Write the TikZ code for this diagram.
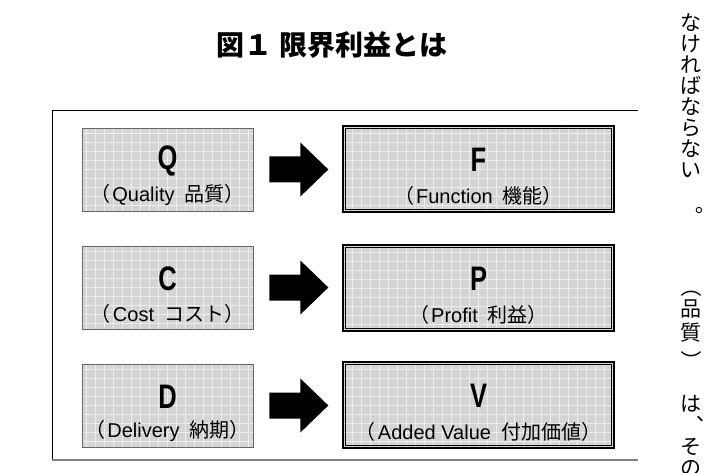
\documentclass[tikz,border=0pt]{standalone}
\usepackage{fontspec}
\usepackage{graphicx}
\setmainfont{Liberation Sans}
\newfontfamily\jp{Noto Sans CJK JP}
\newcommand{\sublab}[2]{{\jp （}\hspace{0.1em}#1\hspace{0.5em}{\jp #2）}}
\usetikzlibrary{calc}
\begin{document}
\begin{tikzpicture}[x=1pt,y=-1pt,
  texture/.style={path picture={\draw[white,line width=0.6pt,opacity=0.6] (path picture bounding box.south west) grid[xstep=9pt,ystep=9pt] (path picture bounding box.north east);}},
  lbox/.style={draw=black!60, line width=0.7pt, fill=black!17, texture, minimum width=171pt, minimum height=83pt, inner sep=0pt},
  rbox/.style={draw=black, line width=1.6pt, fill=black!17, texture, minimum width=271pt, minimum height=86pt, inner sep=0pt},
  letter/.style={font=\bfseries\fontsize{34}{34}\selectfont, inner sep=0pt},
  sub/.style={font=\fontsize{20}{20}\selectfont, inner sep=0pt},
  ttl/.style={font=\jp\bfseries\fontsize{28}{28}\selectfont, inner sep=0pt},
  vchar/.style={font=\jp\fontsize{21}{21}\selectfont, inner sep=0pt},
  blockarrow/.style={fill=black}
]
\useasboundingbox (0,0) rectangle (714,473);

% title
\node[ttl] (title) at (332,45) {図１ 限界利益とは};

% frame
\coordinate (ftl) at (52,111);
\coordinate (ftr) at (638,111);
\coordinate (fbl) at (52,460);
\coordinate (fbr) at (638,460);
\draw[line width=1pt] (ftr) -- (ftl) -- (fbl);
\draw[black!50, line width=1.5pt] (fbl) -- (fbr);

% boxes
\node[lbox] (q) at (167.5,169.5) {};
\node[lbox] (c) at (167.5,287.5) {};
\node[lbox] (d) at (167.5,405.5) {};
\node[rbox] (f) at (478.5,169) {};
\node[rbox] (p) at (478.5,288) {};
\node[rbox] (v) at (478.5,405) {};
\foreach \b in {f,p,v}{
  \draw[line width=0.6pt] ($(\b.north west)+(3.5,3.5)$) rectangle ($(\b.south east)+(-3.5,-3.5)$);
}

% texts
\node[letter] (qt) at ($(q.center)+(0,-9)$) {\scalebox{0.75}[1]{Q}};
\node[sub] (qs) at ($(q.center)+(0,26)$) {\sublab{Quality}{品質}};
\node[letter] (ct) at ($(c.center)+(0,-9)$) {\scalebox{0.75}[1]{C}};
\node[sub] (cs) at ($(c.center)+(0,26)$) {\sublab{Cost}{コスト}};
\node[letter] (dt) at ($(d.center)+(0,-9)$) {\scalebox{0.75}[1]{D}};
\node[sub] (ds) at ($(d.center)+(0,26)$) {\sublab{Delivery}{納期}};
\node[letter] (ft) at ($(f.center)+(0,-9)$) {\scalebox{0.75}[1]{F}};
\node[sub] (fs) at ($(f.center)+(0,27)$) {\sublab{Function}{機能}};
\node[letter] (pt) at ($(p.center)+(0,-9)$) {\scalebox{0.75}[1]{P}};
\node[sub] (ps) at ($(p.center)+(0,27)$) {\sublab{Profit}{利益}};
\node[letter] (vt) at ($(v.center)+(0,-9)$) {\scalebox{0.75}[1]{V}};
\node[sub] (vs) at ($(v.center)+(0,27)$) {\sublab{Added Value}{付加価値}};

% block arrows
\foreach \a/\b in {q/f,c/p,d/v}{
  \fill[blockarrow] (\a.east) ++(16,-13) -- ++(31,0) -- ++(0,-14) -- ++(28,27) -- ++(-28,27) -- ++(0,-14) -- ++(-31,0) -- cycle;
}

% vertical text, right margin
\node[vchar] (v1) at (691,22.5) {な};
\node[vchar] (v2) at (691,43.5) {け};
\node[vchar] (v3) at (691,64.5) {れ};
\node[vchar] (v4) at (691,85.5) {ば};
\node[vchar] (v5) at (691,106.5) {な};
\node[vchar] (v6) at (691,127.5) {ら};
\node[vchar] (v7) at (691,149) {な};
\node[vchar] (v8) at (691,170.5) {い};
\node[vchar] (v9) at (693,216) {︒};
\node[vchar] (w1) at (691,287) {\rotatebox[origin=c]{-90}{（}};
\node[vchar] (w2) at (691,309) {品};
\node[vchar] (w3) at (691,333) {質};
\node[vchar] (w4) at (691,361) {\rotatebox[origin=c]{-90}{）}};
\node[vchar] (w5) at (691,404) {は};
\node[vchar] (w6) at (694,425) {︑};
\node[vchar] (w7) at (691,447) {そ};
\node[vchar] (w8) at (691,468) {の};
\end{tikzpicture}
\end{document}
